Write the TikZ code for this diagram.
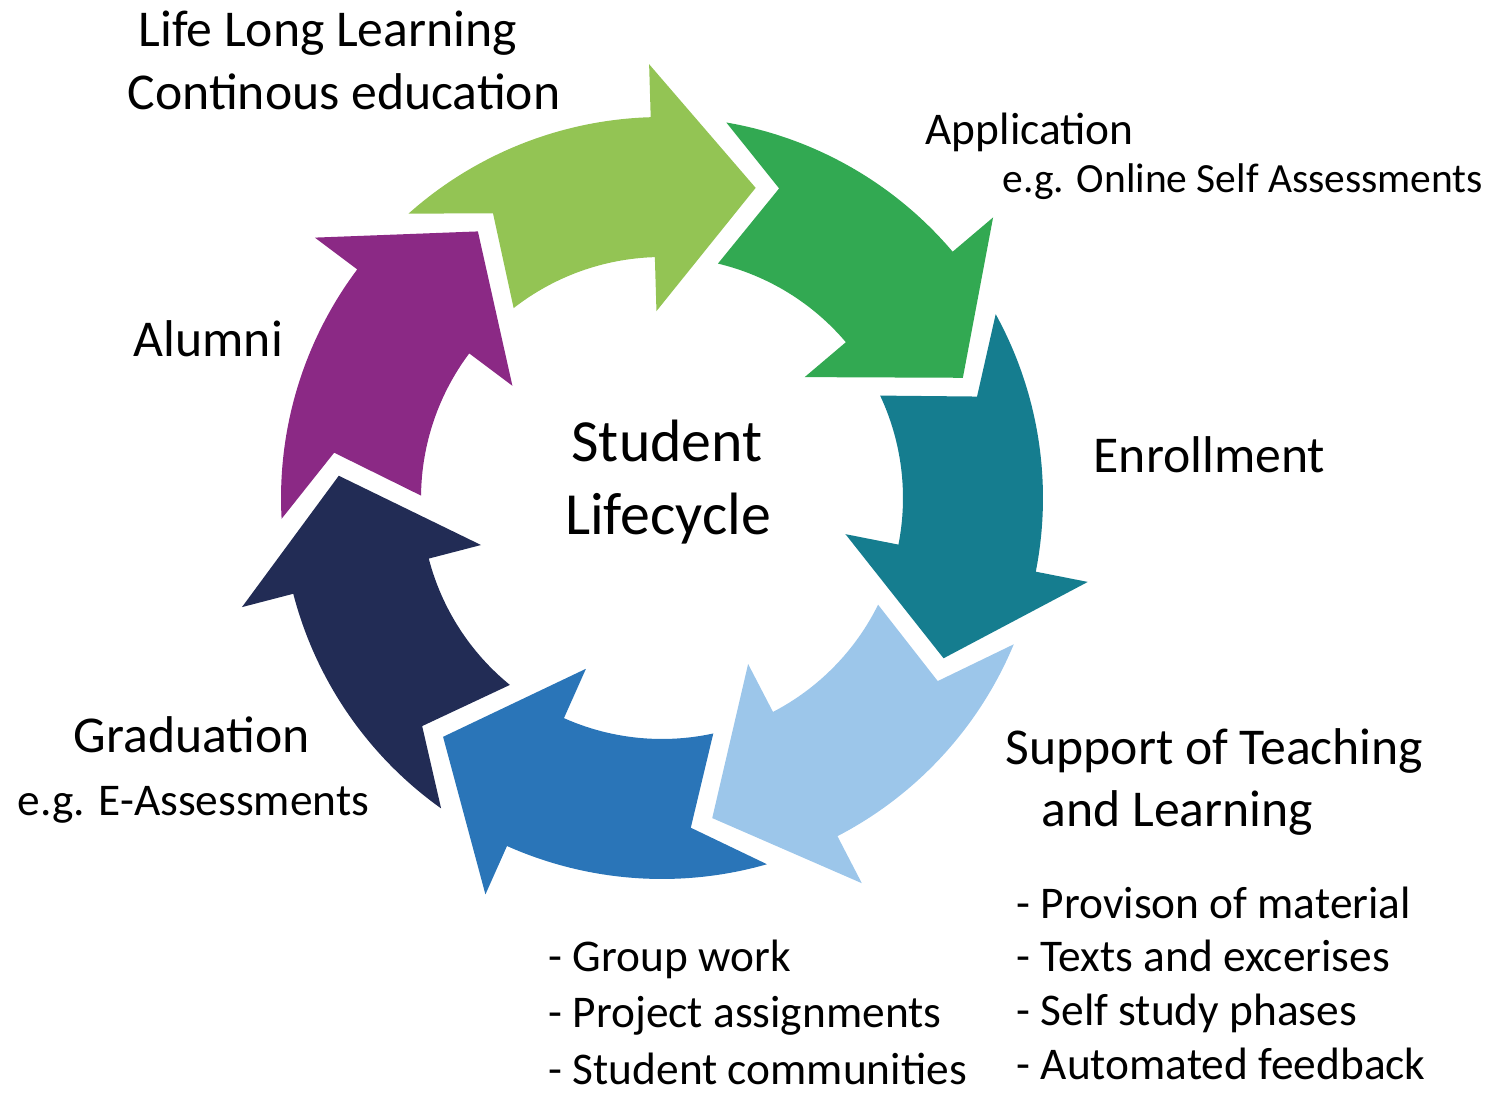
\documentclass[tikz,border=0pt]{standalone}
\usepackage{fontspec}
\setmainfont{Carlito}
\definecolor{colLifelong}{RGB}{147,196,84}
\definecolor{colApplication}{RGB}{50,169,82}
\definecolor{colEnrollment}{RGB}{21,125,143}
\definecolor{colSupport}{RGB}{156,198,234}
\definecolor{colGroup}{RGB}{42,117,184}
\definecolor{colGraduation}{RGB}{34,44,85}
\definecolor{colAlumni}{RGB}{139,41,133}

\begin{document}
\begin{tikzpicture}
  [x=0.01cm,y=0.01cm,every node/.style={inner sep=0pt,anchor=base west},
   big/.style={font=\fontsize{14.7}{17}\selectfont},
   small/.style={font=\fontsize{12.9}{15}\selectfont},
   tiny/.style={font=\fontsize{11.8}{14}\selectfont},
   centre/.style={anchor=base,font=\fontsize{17}{20}\selectfont}]
  \useasboundingbox (0,0) rectangle (1488,1093);
  \coordinate (c) at (662,595);

  \foreach \k/\col in {0/colLifelong,1/colAlumni,2/colGraduation,3/colGroup,
                       4/colSupport,5/colEnrollment,6/colApplication}
    \fill [\col,shift={(c)},rotate={73.2+51.43*\k}]
      (0:324) -- (18.5:434) -- (18.5:381)
      arc [start angle=18.5,end angle=58.5,radius=381]
      -- (47.5:331) -- (54.8:241)
      arc [start angle=54.8,end angle=18.5,radius=241]
      -- (18.5:187) -- cycle;

  \node [centre] (stud) at (667,632) {Student};
  \node [centre] (life) at (668,559) {Lifecycle};

  \node [big] (lll) at (138,1046) {Life Long Learning};
  \node [big] (cont) at (127,983) {Continous education};
  \node [small] (app) at (925,948) {Application};
  \node [tiny] (osa) at (1002,900) {e.g. Online Self Assessments};
  \node [big] (enr) at (1093,621) {Enrollment};
  \node [big] (sup1) at (1005,329) {Support of Teaching};
  \node [big] (sup2) at (1041,267) {and Learning};
  \node [small] (b1) at (1016,175) {- Provison of material};
  \node [small] (b2) at (1016,122) {- Texts and excerises};
  \node [small] (b3) at (1016,68) {- Self study phases};
  \node [small] (b4) at (1016,14) {- Automated feedback};
  \node [small] (g1) at (548,122) {- Group work};
  \node [small] (g2) at (548,66) {- Project assignments};
  \node [small] (g3) at (548,9) {- Student communities};
  \node [big] (grad) at (73,341) {Graduation};
  \node [small] (eas) at (17,278) {e.g. E-Assessments};
  \node [big] (alum) at (133,736) {Alumni};

\end{tikzpicture}
\end{document}
